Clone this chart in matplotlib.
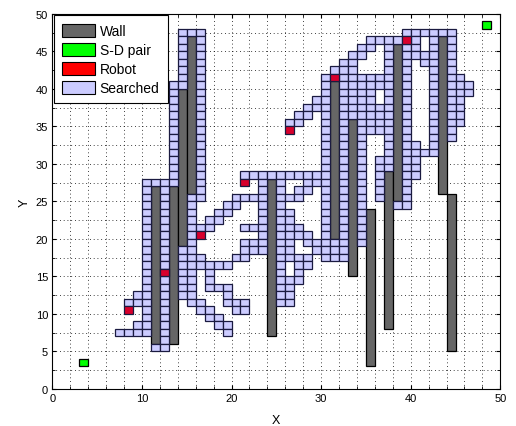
import matplotlib
matplotlib.use('Agg')
import matplotlib.pyplot as plt
from matplotlib.patches import Patch
from matplotlib.ticker import MultipleLocator

plt.rcParams['font.family'] = ['Liberation Sans', 'DejaVu Sans']

# grid cells: row y -> columns that were searched ("a-b" is a run of cells)
search_y = [47, 46, 45, 44, 43, 42, 41, 40, 39, 38, 37, 36, 35, 34, 33, 32,
            31, 30, 29, 28, 27, 26, 25, 24, 23, 22, 21, 20, 19, 18, 17, 16,
            15, 14, 13, 12, 11, 10, 9, 8, 7, 6, 5]
search_x = [
    "14-16 39-44",
    "14 16 35-38 40 42 44",
    "14 16 34 35 37 39 40 42 44",
    "14 16 33 34 37 39-42 44",
    "14 16 32 33 37 39 41 42 44",
    "14 16 31-33 37 39 42 44",
    "14 16 30 32-37 39 42 44 45",
    "13 14 16 30 32-37 39 42 44-46",
    "13 16 30 32-35 37 39 42 44-46",
    "13 16 29 30 32-35 37 39 42 44 45",
    "13 16 28-30 32-37 39 42 44 45",
    "13 16 27 28 30 32-37 39 42 44 45",
    "13 16 26 27 30 32 34-37 39 42 44 45",
    "13 16 30 32 34-37 39 42 44",
    "13 16 30 32 34 37 39 42 44",
    "13 16 30 32 34 37 39 40 42",
    "13 16 30 32 34 37 39-42",
    "13 16 30 32 34 36 37 39 40",
    "13 16 30 32 34 36 37 39 40",
    "13 16 21-30 32 34 36 39 40",
    "10-13 16 23 25 28-30 32 34 36 39",
    "10 12 16 23 25 27 28 30 32 34 36 39",
    "10 12 15 16 20-23 25-27 30 32 34 36 39",
    "10 12 15 19 20 23 25 30 32 34 38 39",
    "10 12 15 18 19 23 25 26 30 32 34",
    "10 12 15 17 18 23 25 26 30 32 34",
    "10 12 15-17 21-23 25-27 30 32 34",
    "10 12 15 23 25-28 30 32 34",
    "10 12 15 21-23 25 26 28-32 34",
    "10 12 14 15 21-23 25 26 29-32",
    "10 12 14-16 20 21 25-28 30-32",
    "10 12 14-19 25 27 28",
    "10 12 14 15 17 25 27",
    "10 12 14 15 17 25-27",
    "10 12 14 15 17-19 25 26",
    "9 10 12 14 15 19 25 26",
    "8-10 12 15 16 19-21 25 26",
    "10 12 16 17 20 21",
    "10 12 17 18",
    "9 10 12 18 19",
    "7-10 12 19",
    "12",
    "11 12",
]

wall_x = [11, 13, 14, 15, 24, 31, 33, 35, 37, 38, 43, 44]
wall_bottom = [6, 6, 19, 26, 7, 20, 15, 3, 8, 25, 26, 5]
wall_top = [27, 27, 40, 47, 28, 41, 36, 24, 29, 46, 47, 26]

robot_x = [8, 12, 16, 21, 26, 31, 39]
robot_y = [10, 15, 20, 27, 34, 41, 46]

pair_x = [3, 48]
pair_y = [3, 48]

labels = ['Wall', 'S-D pair', 'Robot', 'Searched']


def expand(spec):
    out = []
    for part in spec.split():
        if '-' in part:
            a, b = part.split('-')
            out += range(int(a), int(b) + 1)
        else:
            out.append(int(part))
    return out


sx, sy = [], []
for y, spec in zip(search_y, search_x):
    xs = expand(spec)
    sx += xs
    sy += [y] * len(xs)

wall_col = '#666666'
search_col = '#ccccff'
robot_col = '#d8002c'
pair_col = '#00ff00'
cell_edge = '#1a1a40'

fig = plt.figure(figsize=(5.16, 4.27), dpi=100)
ax = fig.add_axes([0.1014, 0.0867, 0.8682, 0.8782])

ax.bar(wall_x, [t - b for t, b in zip(wall_top, wall_bottom)], width=1,
       bottom=wall_bottom, align='edge', color=wall_col, edgecolor='black',
       linewidth=0.9, zorder=2)
ax.bar(sx, 1, width=1, bottom=sy, align='edge', color=search_col,
       edgecolor=cell_edge, linewidth=0.9, zorder=3)
ax.bar(robot_x, 1, width=1, bottom=robot_y, align='edge', color=robot_col,
       edgecolor=cell_edge, linewidth=0.9, zorder=4)
ax.bar(pair_x, 1, width=1, bottom=pair_y, align='edge', color=pair_col,
       edgecolor='black', linewidth=0.9, zorder=4)

ax.set_xlim(0, 50)
ax.set_ylim(0, 50)
ax.xaxis.set_major_locator(MultipleLocator(10))
ax.xaxis.set_minor_locator(MultipleLocator(2))
ax.yaxis.set_major_locator(MultipleLocator(5))
ax.yaxis.set_minor_locator(MultipleLocator(2.5))
ax.grid(True, which='both', color='black', linestyle=(0, (1, 3.5)), linewidth=0.6)
ax.set_axisbelow(True)
ax.tick_params(which='both', direction='in', top=True, right=True,
               labelsize=8, pad=3)
ax.tick_params(which='major', length=3)
ax.tick_params(which='minor', length=2)
for s in ax.spines.values():
    s.set_linewidth(0.8)

ax.set_xlabel('X', fontsize=9, labelpad=8)
ax.set_ylabel('Y', fontsize=9, labelpad=4)

handles = [Patch(facecolor=c, edgecolor='black', linewidth=0.8)
           for c in [wall_col, pair_col, '#ff0000', search_col]]
leg = ax.legend(handles, labels, loc='upper left', bbox_to_anchor=(0, 1),
                borderaxespad=0.1, fancybox=False, edgecolor='black',
                framealpha=1, fontsize=10, handlelength=2.4,
                handleheight=1.05, labelspacing=0.35, handletextpad=0.3,
                borderpad=0.6)
leg.get_frame().set_linewidth(0.8)
leg.set_zorder(10)

fig.savefig('out.png', dpi=100)
